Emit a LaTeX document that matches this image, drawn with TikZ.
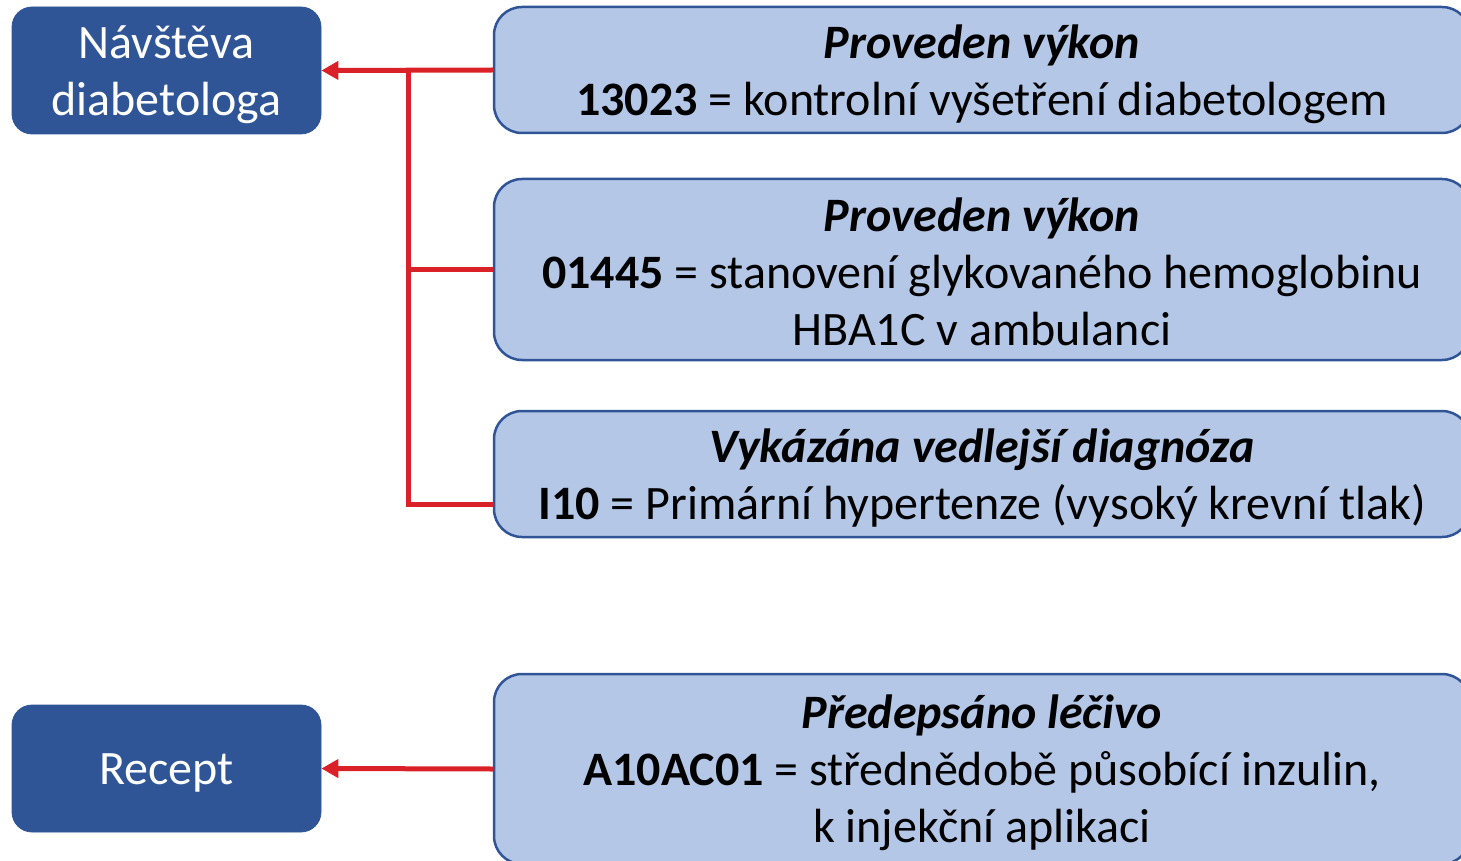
\documentclass[tikz,border=0pt]{standalone}
\usepackage{fontspec}
\setmainfont{Carlito}
\usetikzlibrary{arrows.meta}
\definecolor{dblue}{HTML}{2F5597}
\definecolor{lblue}{HTML}{B4C7E7}
\definecolor{ared}{HTML}{DA2128}
\tikzset{
  darkbox/.style={fill=dblue, draw=dblue, rounded corners=10pt, minimum width=154.5pt, minimum height=63.5pt, inner sep=0pt},
  lightbox/.style={fill=lblue, draw=dblue, line width=1.25pt, rounded corners=14pt, minimum width=488pt, inner sep=0pt},
  boxtxt/.style={align=center, inner sep=0pt, font=\fontsize{24}{28.5}\selectfont},
  whitetxt/.style={boxtxt, text=white},
  redline/.style={draw=ared, line width=2.5pt},
  redarrow/.style={redline, -{Triangle[length=8.5pt,width=9pt]}}
}
\begin{document}
\begin{tikzpicture}[x=0.5pt,y=-0.5pt]
\useasboundingbox (0,0) rectangle (1461,861);
\clip (0,0) rectangle (1461,861);
\node[darkbox] (nav) at (166.5,70.5) {};
\node[whitetxt] (navt) at ([yshift=-2pt]nav.center) {Návštěva\\diabetologa};
\node[darkbox] (rec) at (166.5,768.5) {};
\node[whitetxt] (rect) at ([yshift=-2pt]rec.center) {Recept};
\node[lightbox, minimum height=63pt] (r1) at (982,70) {};
\node[boxtxt] (t1) at ([yshift=-2pt]r1.center) {\textbf{\textit{Proveden výkon}}\\\textbf{13023} = kontrolní vyšetření diabetologem};
\node[lightbox, minimum height=90.5pt] (r2) at (982,269.5) {};
\node[boxtxt] (t2) at ([yshift=-1pt]r2.center) {\textbf{\textit{Proveden výkon}}\\\textbf{01445} = stanovení glykovaného hemoglobinu\\HBA1C v ambulanci};
\node[lightbox, minimum height=63pt] (r3) at (982,474) {};
\node[boxtxt] (t3) at ([yshift=-2pt]r3.center) {\textbf{\textit{Vykázána vedlejší diagnóza}}\\\textbf{I10} = Primární hypertenze (vysoký krevní tlak)};
\node[lightbox, minimum height=95pt] (r4) at (982,769) {};
\node[boxtxt] (t4) at ([yshift=-2pt]r4.center) {\textbf{\textit{Předepsáno léčivo}}\\\textbf{A10AC01} = střednědobě působící inzulin,\\k injekční aplikaci};
\coordinate (jtop) at (408,70);
\coordinate (jbot) at (408,504);
\draw[redarrow] (r1.west) -- (nav.east);
\draw[redline] (jtop) -- (jbot) -- (r3.west |- jbot);
\draw[redline] (jtop |- r2.west) -- (r2.west);
\draw[redarrow] (r4.west) -- (rec.east);
\end{tikzpicture}
\end{document}
